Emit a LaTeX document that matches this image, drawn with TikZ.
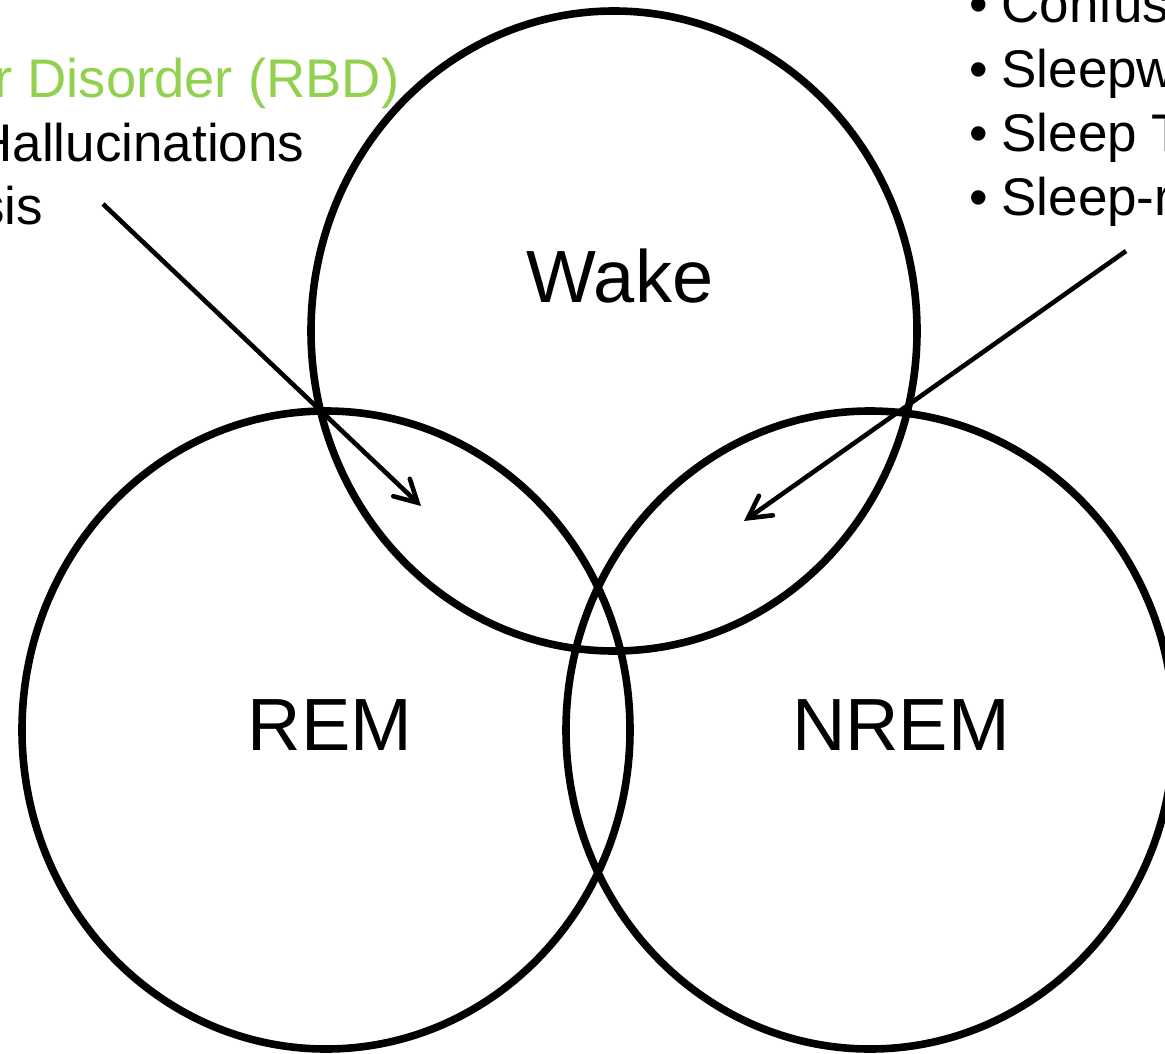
\documentclass[tikz,border=0pt]{standalone}
\usepackage{fontspec}
\setmainfont{Liberation Sans}
\usetikzlibrary{arrows.meta}
\definecolor{rbdgreen}{HTML}{92D050}
\tikzset{
  circ/.style={draw=black, line width=3.8pt},
  lbl/.style={inner sep=0pt, anchor=base, font=\fontsize{37}{44}\selectfont},
  side/.style={inner sep=0pt, anchor=base west, font=\fontsize{26.5}{32}\selectfont},
  pointer/.style={draw=black, line width=2.3pt, -{Straight Barb[length=11pt,width=12pt,line width=2.3pt,line cap=round]}}
}
\begin{document}
\begin{tikzpicture}[x=0.5pt,y=-0.5pt]
\useasboundingbox (0,0) rectangle (1165,1053);
\clip (0,0) rectangle (1165,1053);
% circles
\draw[circ] (614,331) ellipse [x radius=303, y radius=320];
\draw[circ] (326,730) ellipse [x radius=304, y radius=319];
\draw[circ] (870,730) ellipse [x radius=304, y radius=319];
% labels
\node[lbl] (wake) at (620,303) {Wake};
\node[lbl] (rem) at (330,750) {REM};
\node[lbl] (nrem) at (901,750) {NREM};
% left text
\node[side, text=rbdgreen, font=\fontsize{27.2}{32}\selectfont] (rbd) at (-6,98) {r Disorder (RBD)};
\node[side] (hall) at (-26,162) {Hallucinations};
\node[side] (sis) at (-22,225) {sis};
% right text
\node[side] (b1) at (969,23) {•};
\node[side] (t1) at (1001,23) {Confus};
\node[side] (b2) at (969,88) {•};
\node[side] (t2) at (1001,88) {Sleepw};
\node[side] (b3) at (969,152) {•};
\node[side] (t3) at (1001,152) {Sleep T};
\node[side] (b4) at (969,216) {•};
\node[side] (t4) at (1001,216) {Sleep-r};
% arrows
\coordinate (la) at (103,204);
\coordinate (lb) at (421,506);
\coordinate (ra) at (1126,251);
\coordinate (rb) at (744,521);
\draw[pointer] (la) -- (lb);
\draw[pointer] (ra) -- (rb);
\end{tikzpicture}
\end{document}
